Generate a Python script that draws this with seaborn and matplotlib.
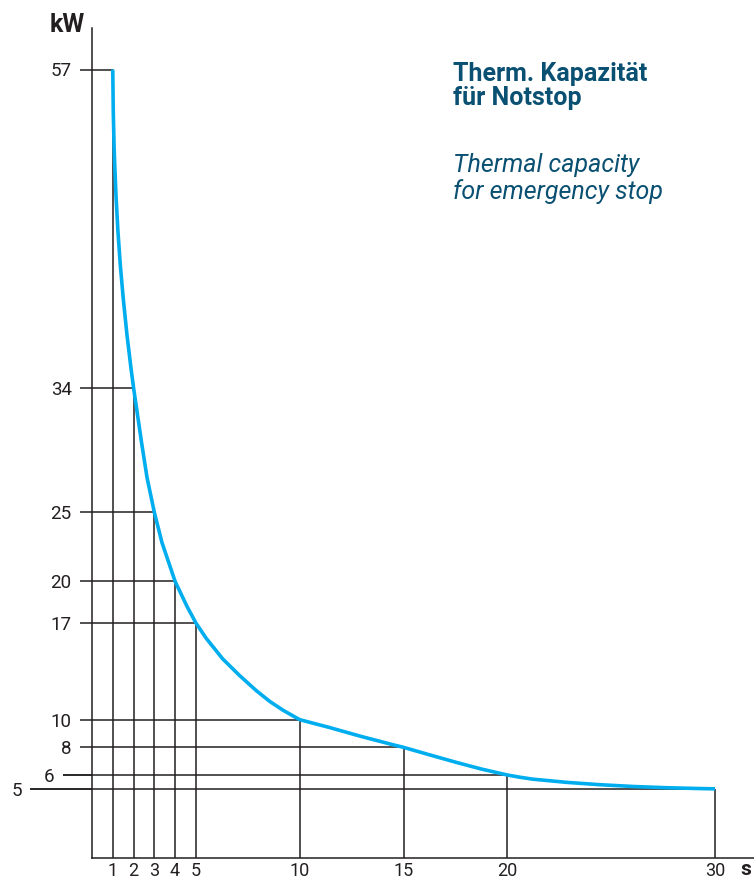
import seaborn as sns
import matplotlib.pyplot as plt
import pandas as pd

# labelled points of the chart (s, kW)
time_s = [1, 2, 3, 4, 5, 10, 15, 20, 30]
power_kw = [57, 34, 25, 20, 17, 10, 8, 6, 5]

# points
curve_s = [1.0, 1.024, 1.062, 1.09, 1.157, 1.248, 1.362, 1.505, 1.676, 1.871, 2.0,
           2.40, 2.65, 3.0, 3.37, 4.0, 4.57, 5.0, 5.49, 6.29, 7.10, 7.91, 8.56, 9.19, 10.0,
           11.37, 12.98, 14.59, 15.0, 16.25, 17.5, 18.75, 20.0,
           20.6, 21.22, 22.84, 24.44, 26.05, 27.66, 29.28, 30.0]
curve_kw = [57, 53.97, 51.53, 50.27, 47.83, 45.32, 42.88, 40.44, 37.92, 35.48, 34,
            29.9, 27.5, 25, 22.8, 20, 18.2, 17, 15.9, 14.4, 13.2, 12.1, 11.32, 10.69, 10,
            9.46, 8.78, 8.15, 8, 7.46, 6.93, 6.43, 6.0,
            5.84, 5.70, 5.47, 5.30, 5.17, 5.08, 5.02, 5.0]

title_de = "Therm. Kapazität\nfür Notstop"
title_en = "Thermal capacity\nfor emergency stop"

ink = "#231f20"
blue = "#00aeef"
teal = "#0a5072"

sns.set_style("white")
plt.rcParams["font.family"] = ["Roboto", "DejaVu Sans"]

fig = plt.figure(figsize=(7.54, 8.81), dpi=100)
ax = fig.add_axes([92 / 754, 23 / 881, 662 / 754, 830 / 881])

# guide lines from the axes to each labelled point
ax.vlines(time_s, 0, power_kw, color=ink, lw=1.1, zorder=1)
ax.hlines(power_kw, 0, time_s, color=ink, lw=1.1, zorder=1)

curve = pd.DataFrame({"s": curve_s, "kW": curve_kw})
sns.lineplot(data=curve, x="s", y="kW", color=blue, lw=2.6, estimator=None,
             ax=ax, zorder=3, solid_capstyle="butt")

ax.set_xlim(0, 662 / 20.767)
ax.set_ylim(0, 60)
ax.set_xlabel("")
ax.set_ylabel("")
sns.despine(ax=ax)
for side in ["left", "bottom"]:
    ax.spines[side].set_color(ink)
    ax.spines[side].set_linewidth(1.1)

ax.set_xticks(time_s)
ax.set_xticklabels([str(v) for v in time_s])
ax.set_yticks(power_kw)
ax.set_yticklabels([str(v) for v in power_kw])
ax.tick_params(axis="x", length=0, pad=3, labelsize=13, colors=ink)
ax.tick_params(axis="y", left=True, length=8.6, width=1.1, pad=6,
               labelsize=13.5, colors=ink)

# the lowest two guide lines reach further out to the left (length in axes fraction)
long_ticks = {6: 29 / 662, 5: 62 / 662}
for tick, v in zip(ax.yaxis.get_major_ticks(), power_kw):
    if v in long_ticks:
        ext = long_ticks[v]
        tick._apply_params(size=ext * 662 * 0.72, pad=6)
        ax.hlines(v, -ext, 0, transform=ax.get_yaxis_transform(), color=ink,
                  lw=1.1, clip_on=False)

fig.text(50 / 754, 1 - 13 / 881, "kW", fontsize=18, fontweight="bold",
         color=ink, va="top", ha="left")
fig.text(740 / 754, 1 - 860 / 881, "s", fontsize=15, fontweight="bold",
         color=ink, va="top", ha="left")

fig.text(453 / 754, 1 - 62 / 881, title_de, fontsize=18, fontweight="bold",
         color=teal, va="top", ha="left", linespacing=1.0)
fig.text(453 / 754, 1 - 153 / 881, title_en, fontsize=18, fontstyle="italic",
         color=teal, va="top", ha="left", linespacing=1.12)

fig.savefig("out.png", dpi=100)
